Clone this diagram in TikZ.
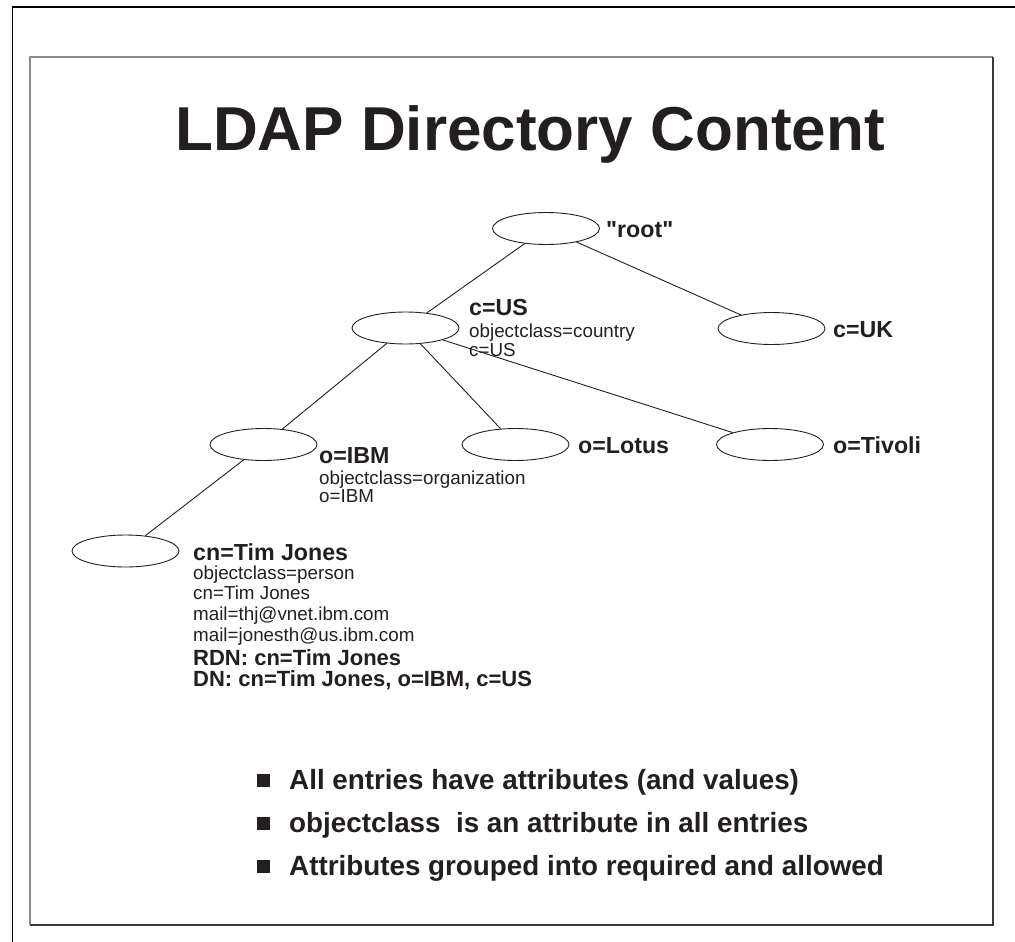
\documentclass[tikz,border=0pt]{standalone}
\usepackage{fontspec}
\setmainfont{Liberation Sans}[Ligatures=TeXOff]
\usetikzlibrary{shapes.geometric}
\definecolor{ink}{HTML}{231F20}
\definecolor{framelight}{HTML}{8A8A8A}
\definecolor{framedark}{HTML}{3A3A3A}
\tikzset{
  entry/.style={draw=ink, ellipse, line width=0.9pt, minimum width=107pt, minimum height=32pt, inner sep=0pt},
  link/.style={draw=ink, line width=0.9pt},
  head/.style={anchor=base west, inner sep=0pt, text=ink, font=\fontsize{23.2}{25}\selectfont\bfseries},
  dnline/.style={anchor=base west, inner sep=0pt, text=ink, font=\fontsize{22}{24}\selectfont\bfseries},
  attr/.style={anchor=base west, inner sep=0pt, text=ink, font=\fontsize{18.8}{21}\selectfont},
  point/.style={anchor=base west, inner sep=0pt, text=ink, font=\fontsize{27.8}{30}\selectfont\bfseries},
  bulletbox/.style={fill=ink, draw=none, minimum size=13pt, inner sep=0pt}
}
\begin{document}
\begin{tikzpicture}[x=1pt,y=-1pt]
\useasboundingbox (0,0) rectangle (1015,942);
% outer sheet edge
\draw[black, line width=1.8pt] (12.5,942) -- (12.5,7) -- (1015,7);
% slide frame: light top/left, dark bottom/right
\draw[framelight, line width=1.8pt] (30,925) -- (30,57) -- (993,57);
\draw[framedark, line width=1.6pt] (993,57) -- (993,925) -- (30,925);
% title
\node[anchor=base, inner sep=0pt, text=ink, font=\fontsize{62}{66}\selectfont\bfseries] (title) at (530,150) {LDAP Directory Content};
% directory tree entries
\node[entry] (root) at (546,228.5) {};
\node[entry] (us) at (405.5,328) {};
\node[entry] (uk) at (771.5,328.5) {};
\node[entry] (ibm) at (263.5,444.5) {};
\node[entry] (lotus) at (515.5,444.5) {};
\node[entry] (tivoli) at (770,444.5) {};
\node[entry] (tim) at (125.5,551) {};
% tree edges
\draw[link] (root) -- (us);
\draw[link] (root) -- (uk);
\draw[link] (us) -- (ibm);
\draw[link] (us) -- (lotus);
\draw[link] (us) -- (tivoli);
\draw[link] (ibm) -- (tim);
% entry labels
\node[head] (rootlbl) at (606,237) {"root"};
\node[head] (uslbl) at (469,315) {c=US};
\node[attr] (usoc) at (469,337) {objectclass=country};
\node[attr] (usc) at (469,356) {c=US};
\node[head] (uklbl) at (833,337) {c=UK};
\node[head] (ibmlbl) at (319,463) {o=IBM};
\node[attr] (ibmoc) at (319,484) {objectclass=organization};
\node[attr] (ibmo) at (319,502) {o=IBM};
\node[head] (lotuslbl) at (578,453) {o=Lotus};
\node[head] (tivolilbl) at (833,453) {o=Tivoli};
\node[head] (timlbl) at (193,560) {cn=Tim Jones};
\node[attr] (timoc) at (193,579) {objectclass=person};
\node[attr] (timcn) at (193,599) {cn=Tim Jones};
\node[attr] (timmail) at (193,620) {mail=thj@vnet.ibm.com};
\node[attr] (timmailb) at (193,641) {mail=jonesth@us.ibm.com};
\node[dnline] (rdn) at (193,665) {RDN: cn=Tim Jones};
\node[dnline] (dn) at (193,686) {DN: cn=Tim Jones, o=IBM, c=US};
% bullet points
\node[bulletbox] (b1) at (263.5,780) {};
\node[bulletbox] (b2) at (263.5,823) {};
\node[bulletbox] (b3) at (263.5,866) {};
\node[point] (p1) at (289,789) {All entries have attributes (and values)};
\node[point] (p2) at (289,832) {objectclass\ \ is an attribute in all entries};
\node[point] (p3) at (289,875) {Attributes grouped into required and allowed};
\end{tikzpicture}
\end{document}
